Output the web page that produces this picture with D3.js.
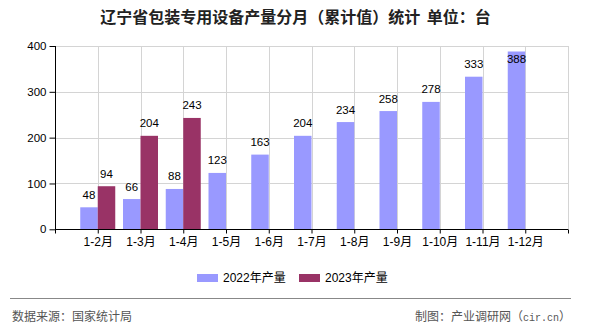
<!DOCTYPE html>
<html><head><meta charset="utf-8">
<script src="https://cdn.jsdelivr.net/npm/d3@7"></script>
<style>
html,body{margin:0;padding:0;background:#fff;}
svg{display:block;}
text{font-family:"Liberation Sans","Noto Sans CJK SC",sans-serif;}
</style></head>
<body>
<svg id="c" width="590" height="330"></svg>
<script>
const categories = ["1-2月","1-3月","1-4月","1-5月","1-6月","1-7月","1-8月","1-9月","1-10月","1-11月","1-12月"];
const series2022 = [48,66,88,123,163,204,234,258,278,333,388];
const series2023 = [94,204,243,null,null,null,null,null,null,null,null];
const seriesNames = ["2022年产量","2023年产量"];
const yTicks = [0,100,200,300,400];
const title = "辽宁省包装专用设备产量分月（累计值）统计 单位：台";
const source = "数据来源：国家统计局";
const creditParts = ["制图：产业调研网（", "cir.cn", "）"];

const colors = ["#9999ff","#993366"];
const svg = d3.select("#c");
const L = 55, R = 568, T = 46, B = 229.3;
const x = d3.scalePoint().domain(categories).range([L, R]).padding(1);
const y = d3.scaleLinear().domain([0, 400]).range([B, T]);
const bw = 17.5;

// title
svg.append("text").attr("x", 295.5).attr("y", 23).attr("text-anchor","middle")
  .style("font-family","'Noto Sans CJK SC',sans-serif").style("font-weight","bold")
  .style("font-size","16px").style("word-spacing","3px").attr("fill","#222").text(title);

// grid
const g = svg.append("g");
g.selectAll("line.hg").data(yTicks.filter(d=>d>0)).join("line")
  .attr("x1", L).attr("x2", R).attr("y1", d=>Math.round(y(d))+0.5).attr("y2", d=>Math.round(y(d))+0.5)
  .attr("stroke","#d4d4d4").attr("stroke-width",1);
g.selectAll("line.vg").data(categories).join("line")
  .attr("x1", d=>Math.round(x(d))+0.5).attr("x2", d=>Math.round(x(d))+0.5)
  .attr("y1", T).attr("y2", B)
  .attr("stroke","#d4d4d4").attr("stroke-width",1);
g.append("line").attr("x1", R+0.5).attr("x2", R+0.5).attr("y1", T).attr("y2", B)
  .attr("stroke","#d4d4d4");

// bars
const data = [series2022, series2023];
data.forEach((s, si) => {
  const items = categories.map((c,i)=>({c, v:s[i]})).filter(d=>d.v!=null);
  svg.append("g").selectAll("rect").data(items).join("rect")
    .attr("x", d => si===0 ? x(d.c)-bw : x(d.c))
    .attr("width", bw)
    .attr("y", d => y(d.v))
    .attr("height", d => B - y(d.v))
    .attr("fill", colors[si]);
  svg.append("g").selectAll("text").data(items).join("text")
    .attr("x", d => (si===0 ? x(d.c)-bw/2 : x(d.c)+bw/2))
    .attr("y", d => { const ty = y(d.v)-8.5; return (ty-8 < T) ? y(d.v)+12 : ty; })
    .attr("text-anchor","middle").style("font-size","11.5px").attr("fill","#000")
    .text(d => d.v);
});

// axes
const yAxis = d3.axisLeft(y).tickValues(yTicks).tickSize(6).tickPadding(3);
const ya = svg.append("g").attr("transform",`translate(${L+0.5},0)`).call(yAxis);
ya.select(".domain").attr("d", `M-0,${T}V${B}`).attr("stroke","#000");
ya.selectAll("text").style("font-size","11.5px").attr("fill","#000");

const xAxis = d3.axisBottom(x).tickSize(4).tickPadding(4);
const xa = svg.append("g").attr("transform",`translate(0,${Math.round(B)+0.5})`).call(xAxis);
xa.select(".domain").attr("d", `M${L},0H${R}`).attr("stroke","#000");
xa.selectAll("text").style("font-size","12px").attr("fill","#000");
xa.append("line").attr("x1",L+0.5).attr("x2",L+0.5).attr("y1",0).attr("y2",4).attr("stroke","#000");
xa.append("line").attr("x1",R+0.5).attr("x2",R+0.5).attr("y1",0).attr("y2",4).attr("stroke","#000");

// legend
const legX = [197, 299];
seriesNames.forEach((n,i)=>{
  svg.append("rect").attr("x", legX[i]).attr("y", 274).attr("width", 21).attr("height", 8).attr("fill", colors[i]);
  svg.append("text").attr("x", legX[i]+26).attr("y", 282).style("font-size","12px").attr("fill","#000").text(n);
});

// footer
svg.append("line").attr("x1",10).attr("x2",571).attr("y1",298.5).attr("y2",298.5).attr("stroke","#888").attr("stroke-width",1.2);
svg.append("text").attr("x",12).attr("y",321).style("font-size","12px").style("font-family","'Noto Sans CJK SC',sans-serif").attr("fill","#555").text(source);
const ct = svg.append("text").attr("x",571).attr("y",321).attr("text-anchor","end").style("font-size","12px").style("font-family","'Noto Sans CJK SC',sans-serif").attr("fill","#555");
ct.append("tspan").text(creditParts[0]);
ct.append("tspan").style("font-family","'Liberation Mono',monospace").style("font-size","10px").text(creditParts[1]);
ct.append("tspan").text(creditParts[2]);
</script>
</body></html>
